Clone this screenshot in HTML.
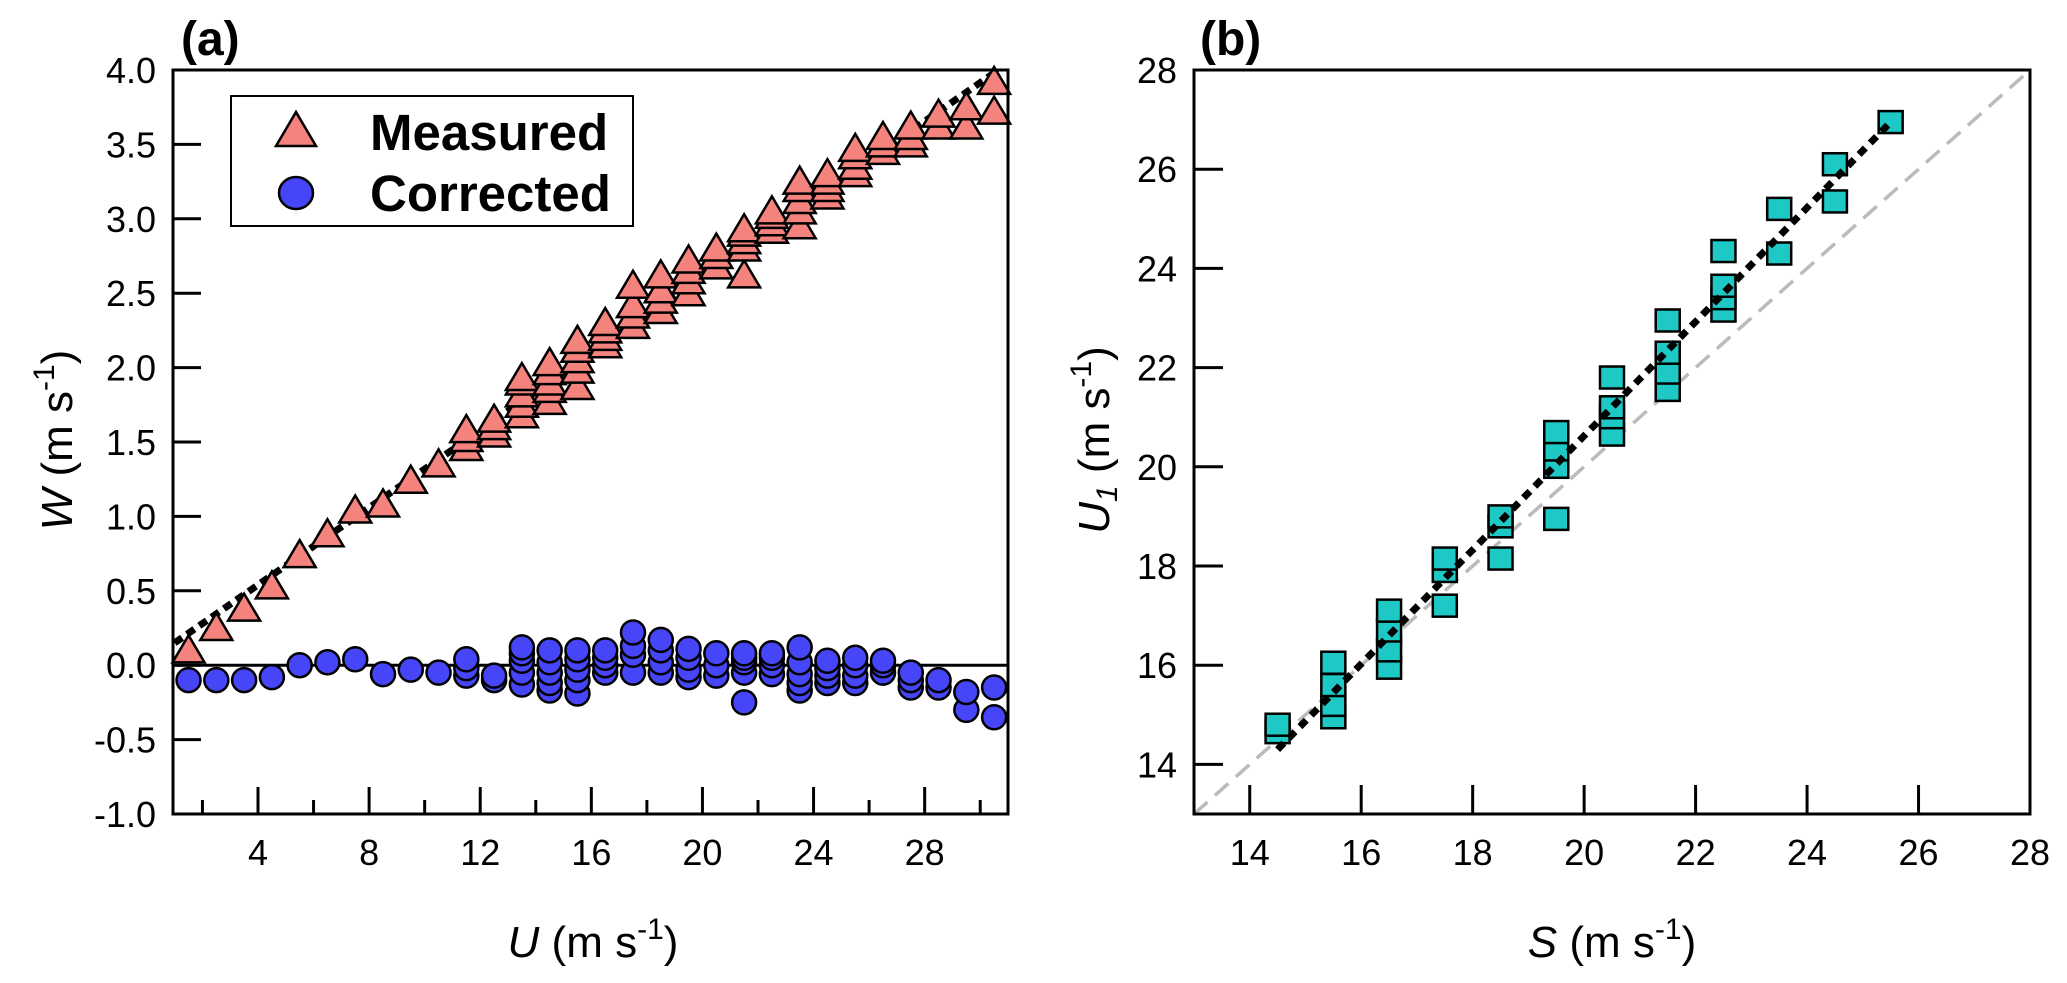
<!DOCTYPE html>
<html><head><meta charset="utf-8"><style>
html,body{margin:0;padding:0;background:#fff;}
svg{display:block;font-family:"Liberation Sans",Arial,sans-serif;}
</style></head><body>
<svg id="chart" width="2067" height="983" viewBox="0 0 2067 983" xmlns="http://www.w3.org/2000/svg">
<g id="pa"></g>
<g id="pb"></g>
</svg>
<script>
// Panel (a) data
const aBins = [1.5,2.5,3.5,4.5,5.5,6.5,7.5,8.5,9.5,10.5,11.5,12.5,13.5,14.5,15.5,16.5,17.5,18.5,19.5,20.5,21.5,22.5,23.5,24.5,25.5,26.5,27.5,28.5,29.5,30.5];
const aMeasured = [[0.1],[0.25],[0.38],[0.53],[0.74],[0.88],[1.04],[1.08],[1.24],[1.35],[1.46,1.52,1.58],[1.55,1.6,1.65],[1.68,1.75,1.82,1.9,1.93],[1.77,1.85,1.9,1.97,2.03],[1.87,1.98,2.05,2.12,2.18],[2.15,2.2,2.25,2.3],[2.28,2.35,2.42,2.55],[2.38,2.45,2.52,2.62],[2.5,2.58,2.65,2.72],[2.68,2.75,2.8],[2.62,2.8,2.85,2.9,2.93],[2.92,2.97,3.02,3.05],[2.95,3.05,3.12,3.2,3.25],[3.15,3.2,3.25,3.3],[3.3,3.35,3.42,3.47],[3.45,3.5,3.55],[3.5,3.55,3.62],[3.62,3.7],[3.62,3.75],[3.72,3.92]];
const aCorrected = [[-0.1],[-0.1],[-0.1],[-0.08],[0.0],[0.02],[0.04],[-0.06],[-0.03],[-0.05],[-0.07,-0.02,0.04],[-0.1,-0.07],[-0.13,-0.05,0.03,0.08,0.12],[-0.17,-0.12,-0.05,0.02,0.1],[-0.19,-0.1,-0.03,0.04,0.1],[-0.05,0,0.05,0.1],[-0.05,0.07,0.13,0.22],[-0.05,0.02,0.1,0.17],[-0.08,-0.03,0.05,0.11],[-0.07,0.0,0.08],[-0.25,-0.05,0.02,0.05,0.08],[-0.06,0.0,0.05,0.08],[-0.17,-0.12,-0.06,0.02,0.12],[-0.12,-0.07,-0.02,0.03],[-0.12,-0.07,0,0.05],[-0.05,0,0.03],[-0.15,-0.1,-0.05],[-0.15,-0.1],[-0.3,-0.18],[-0.35,-0.15]];
const aFitX = [1.0,30.5];
const aFitY = [0.15,3.98];
const aYTicks = [-1.0,-0.5,0.0,0.5,1.0,1.5,2.0,2.5,3.0,3.5,4.0];
const aXTicks = [4,8,12,16,20,24,28];
const aXMinor = [2,6,10,14,18,22,26,30];
// Panel (b) data
const bBins = [14.5,15.5,16.5,17.5,18.5,19.5,20.5,21.5,22.5,23.5,24.5,25.5];
const bValues = [[14.65,14.8],[14.95,15.2,15.6,16.05],[15.95,16.3,16.7,17.1],[17.2,17.9,18.15],[18.15,18.8,19.0],[18.95,20.0,20.35,20.7],[20.65,21.0,21.2,21.8],[21.55,21.9,22.3,22.95],[23.15,23.4,23.65,24.35],[24.3,25.2],[25.35,26.1],[26.95]];
const bFitX = [14.5,25.5];
const bFitY = [14.3,26.95];
const bTicks = [14,16,18,20,22,24,26,28];

const NS="http://www.w3.org/2000/svg";
function mk(parent,tag,attrs,text){const e=document.createElementNS(NS,tag);for(const k in attrs)e.setAttribute(k,attrs[k]);if(text!==undefined)e.textContent=text;parent.appendChild(e);return e;}

const axA={x0:173,x1:1008,y0:70,y1:814,xmin:0.94,xmax:31.0,ymin:-1,ymax:4};
const axB={x0:1194,x1:2030,y0:70,y1:814,xmin:13,xmax:28,ymin:13,ymax:28};
function sx(ax,v){return ax.x0+(v-ax.xmin)/(ax.xmax-ax.xmin)*(ax.x1-ax.x0);}
function sy(ax,v){return ax.y1-(v-ax.ymin)/(ax.ymax-ax.ymin)*(ax.y1-ax.y0);}

const pa=document.getElementById('pa');
const pb=document.getElementById('pb');
const TF=36, TITLEF=44, SUPF=30;

// ---------- Panel A ----------
let clipA=mk(pa,'clipPath',{id:'ca'});mk(clipA,'rect',{x:axA.x0,y:axA.y0,width:axA.x1-axA.x0,height:axA.y1-axA.y0});
let zl=mk(pa,'line',{x1:axA.x0,x2:axA.x1,y1:sy(axA,0),y2:sy(axA,0),stroke:'#000','stroke-width':3});


let fa=mk(pa,'line',{x1:sx(axA,aFitX[0]),y1:sy(axA,aFitY[0]),x2:sx(axA,aFitX[1]),y2:sy(axA,aFitY[1]),stroke:'#000','stroke-width':7,'stroke-dasharray':'9 6','clip-path':'url(#ca)'});


aBins.forEach((b,i)=>{
  aMeasured[i].forEach(v=>{
    const cx=sx(axA,b),cy=sy(axA,v);
    const t=mk(pa,'polygon',{points:`${cx-16},${cy+12} ${cx+16},${cy+12} ${cx},${cy-15}`,fill:'#f4837d',stroke:'#000','stroke-width':2.5});
    
    
  });
});
aBins.forEach((b,i)=>{
  aCorrected[i].forEach(v=>{
    const c=mk(pa,'ellipse',{cx:sx(axA,b),cy:sy(axA,v),rx:12,ry:12,fill:'#4646f8',stroke:'#000','stroke-width':2.5});
    
    
  });
});
let frA=mk(pa,'rect',{x:axA.x0,y:axA.y0,width:axA.x1-axA.x0,height:axA.y1-axA.y0,fill:'none',stroke:'#000','stroke-width':3});


aYTicks.forEach(v=>{
  const y=sy(axA,v);
  mk(pa,'line',{x1:axA.x0,x2:axA.x0+28,y1:y,y2:y,stroke:'#000','stroke-width':3});
  const t=mk(pa,'text',{x:156,y:y+13,'font-size':TF,'text-anchor':'end'},v.toFixed(1));
  
  
});
aXTicks.forEach(v=>{
  const x=sx(axA,v);
  mk(pa,'line',{x1:x,x2:x,y1:axA.y1,y2:axA.y1-27,stroke:'#000','stroke-width':3});
  const t=mk(pa,'text',{x:x,y:865,'font-size':TF,'text-anchor':'middle'},String(v));
  
  
});
aXMinor.forEach(v=>{const x=sx(axA,v);mk(pa,'line',{x1:x,x2:x,y1:axA.y1,y2:axA.y1-14,stroke:'#000','stroke-width':3});});
let tA=mk(pa,'text',{x:181,y:55,'font-size':48,'font-weight':'bold'},'(a)');


let xtA=mk(pa,'text',{x:593,y:957,'font-size':TITLEF,'text-anchor':'middle'});
xtA.innerHTML='<tspan font-style="italic">U</tspan> (m s<tspan dy="-18" font-size="'+SUPF+'">-1</tspan><tspan dy="18">)</tspan>';


let ytA=mk(pa,'text',{x:0,y:0,'font-size':TITLEF,'text-anchor':'middle',transform:'translate(72,440) rotate(-90)'});
ytA.innerHTML='<tspan font-style="italic">W</tspan> (m s<tspan dy="-18" font-size="'+SUPF+'">-1</tspan><tspan dy="18">)</tspan>';


// legend
let lg=mk(pa,'g',{});


mk(lg,'rect',{x:231,y:96,width:402,height:130,fill:'#fff',stroke:'#000','stroke-width':2});
let le1=mk(lg,'g',{});


mk(le1,'polygon',{points:'276,146 316,146 296,112',fill:'#f4837d',stroke:'#000','stroke-width':2.5});
mk(le1,'text',{x:370,y:150,'font-size':51,'font-weight':'bold'},'Measured');
let le2=mk(lg,'g',{});


mk(le2,'ellipse',{cx:296,cy:193,rx:17,ry:16,fill:'#4646f8',stroke:'#000','stroke-width':2.5});
mk(le2,'text',{x:370,y:211,'font-size':51,'font-weight':'bold'},'Corrected');

// ---------- Panel B ----------
let clipB=mk(pb,'clipPath',{id:'cb'});mk(clipB,'rect',{x:axB.x0,y:axB.y0,width:axB.x1-axB.x0,height:axB.y1-axB.y0});
let one=mk(pb,'line',{x1:sx(axB,13),y1:sy(axB,13),x2:sx(axB,28),y2:sy(axB,28),stroke:'#bbbbbb','stroke-width':3.5,'stroke-dasharray':'18 10','clip-path':'url(#cb)'});


bBins.forEach((b,i)=>{
  bValues[i].forEach(v=>{
    const cx=sx(axB,b),cy=sy(axB,v);
    const r=mk(pb,'rect',{x:cx-12,y:cy-11,width:24,height:22,fill:'#1ec8c4',stroke:'#000','stroke-width':2.5});
    
    
  });
});
let fb=mk(pb,'line',{x1:sx(axB,bFitX[0]),y1:sy(axB,bFitY[0]),x2:sx(axB,bFitX[1]),y2:sy(axB,bFitY[1]),stroke:'#000','stroke-width':7,'stroke-dasharray':'9 7'});


let frB=mk(pb,'rect',{x:axB.x0,y:axB.y0,width:axB.x1-axB.x0,height:axB.y1-axB.y0,fill:'none',stroke:'#000','stroke-width':3});


bTicks.forEach(v=>{
  const y=sy(axB,v),x=sx(axB,v);
  mk(pb,'line',{x1:axB.x0,x2:axB.x0+29,y1:y,y2:y,stroke:'#000','stroke-width':3});
  mk(pb,'line',{x1:x,x2:x,y1:axB.y1,y2:axB.y1-29,stroke:'#000','stroke-width':3});
  const t=mk(pb,'text',{x:1177,y:y+13,'font-size':TF,'text-anchor':'end'},String(v));
  
  
  const t2=mk(pb,'text',{x:x,y:865,'font-size':TF,'text-anchor':'middle'},String(v));
  
  
});
let tB=mk(pb,'text',{x:1200,y:55,'font-size':48,'font-weight':'bold'},'(b)');


let xtB=mk(pb,'text',{x:1612,y:957,'font-size':TITLEF,'text-anchor':'middle'});
xtB.innerHTML='<tspan font-style="italic">S</tspan> (m s<tspan dy="-18" font-size="'+SUPF+'">-1</tspan><tspan dy="18">)</tspan>';


let ytB=mk(pb,'text',{x:0,y:0,'font-size':TITLEF,'text-anchor':'middle',transform:'translate(1109,440) rotate(-90)'});
ytB.innerHTML='<tspan font-style="italic">U<tspan font-size="'+SUPF+'" dy="8">1</tspan></tspan><tspan dy="-8"> (m s</tspan><tspan dy="-18" font-size="'+SUPF+'">-1</tspan><tspan dy="18">)</tspan>';


</script>
</body></html>
